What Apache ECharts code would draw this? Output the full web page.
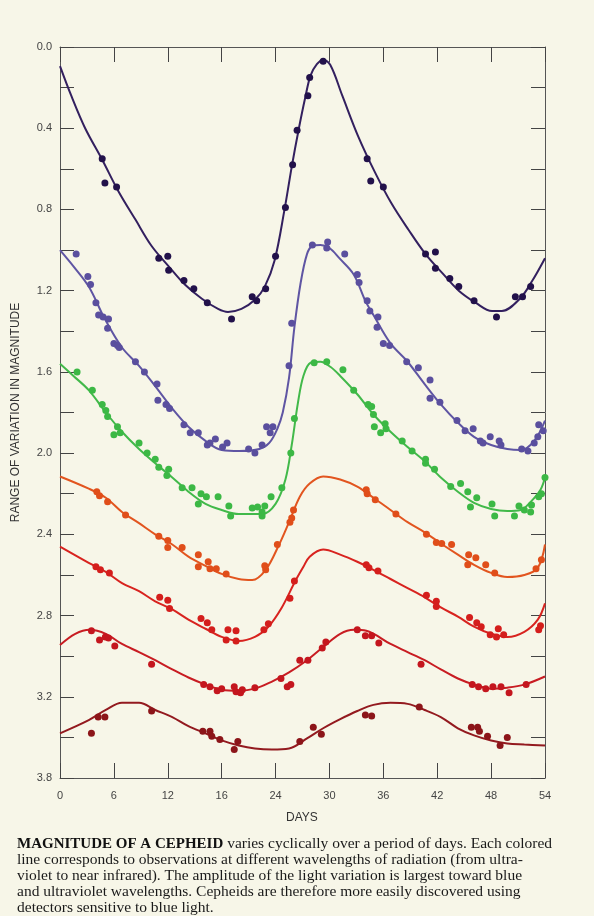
<!DOCTYPE html>
<html>
<head>
<meta charset="utf-8">
<script src="https://cdn.jsdelivr.net/npm/echarts@6/dist/echarts.min.js"></script>
<style>
  html, body { margin: 0; padding: 0; background: #f7f6e8; }
  #main { width: 594px; height: 916px; }
</style>
</head>
<body>
<div id="main"></div>
<script>
// tick labels as printed on the figure
var xTickLabels = ['0', '6', '12', '16', '24', '30', '36', '42', '48', '54'];
var yTickLabels = ['0.0', '', '0.4', '', '0.8', '', '1.2', '', '1.6', '', '2.0', '', '2.4', '', '2.8', '', '3.2', '', '3.8'];

// fitted curves [day, magnitude] and observations, one pair per wavelength
var curve1 = [[0,0.094],[1.3,0.245],[2.8,0.40],[4.7,0.555],[6.5,0.71],[8.4,0.85],[10.2,0.98],[12.1,1.08],[13.9,1.17],[15.8,1.24],[17.6,1.29],[18.7,1.305],[20.2,1.29],[21.7,1.245],[22.8,1.18],[23.9,1.05],[25,0.80],[25.8,0.59],[26.6,0.40],[27.3,0.25],[27.9,0.14],[28.6,0.084],[29.3,0.065],[30.1,0.089],[31.4,0.236],[33.2,0.44],[35.1,0.62],[36.9,0.77],[38.8,0.90],[40.7,1.02],[42.6,1.115],[44.4,1.20],[46.3,1.26],[48.1,1.30],[49.2,1.30],[51.2,1.24],[52.6,1.15],[54,1.04]];
var dots1 = [[4.7,0.55],[5.0,0.67],[6.3,0.69],[11.0,1.04],[12.0,1.03],[12.1,1.10],[13.8,1.15],[14.9,1.19],[16.4,1.26],[19.1,1.34],[21.4,1.23],[21.9,1.25],[22.9,1.19],[24.0,1.03],[25.1,0.79],[25.9,0.58],[26.4,0.41],[27.6,0.24],[27.8,0.15],[29.3,0.07],[34.2,0.55],[34.6,0.66],[36.0,0.69],[40.7,1.02],[41.8,1.01],[41.8,1.09],[43.4,1.14],[44.4,1.18],[46.1,1.25],[48.6,1.33],[50.7,1.23],[51.5,1.23],[52.4,1.18]];

var curve2 = [[0,1.00],[1.5,1.08],[3.2,1.18],[5,1.34],[6.9,1.48],[8.8,1.57],[10.6,1.67],[12.5,1.78],[14.3,1.87],[16.2,1.94],[18,1.985],[20,1.99],[22.2,1.98],[23.3,1.95],[24.2,1.88],[24.8,1.80],[25.5,1.63],[26.1,1.38],[26.8,1.16],[27.5,1.02],[28.1,0.98],[29,0.975],[30,0.99],[31.1,1.04],[32.7,1.12],[34,1.25],[34.9,1.32],[36.8,1.46],[38.7,1.55],[40.6,1.66],[42.4,1.76],[44.3,1.85],[46.1,1.92],[48,1.96],[49.8,1.98],[51.3,1.985],[52.8,1.94],[54,1.84]];
var dots2 = [[1.8,1.02],[3.1,1.13],[3.4,1.17],[4.0,1.26],[4.3,1.32],[4.8,1.33],[5.4,1.34],[5.3,1.385],[6.0,1.46],[6.4,1.47],[6.6,1.48],[8.4,1.55],[9.4,1.60],[10.8,1.66],[10.9,1.74],[11.8,1.76],[12.2,1.78],[13.8,1.86],[14.5,1.90],[15.4,1.90],[16.4,1.96],[16.7,1.95],[17.3,1.93],[18.1,1.97],[18.6,1.95],[21.0,1.98],[21.7,2.00],[22.5,1.96],[23.0,1.87],[23.4,1.90],[23.7,1.87],[25.5,1.57],[25.8,1.36],[28.1,0.975],[29.8,0.96],[29.7,0.99],[31.7,1.02],[33.1,1.12],[33.3,1.16],[34.2,1.25],[34.5,1.30],[35.4,1.33],[35.3,1.38],[36.0,1.46],[36.7,1.47],[38.6,1.55],[39.9,1.58],[41.2,1.64],[41.2,1.73],[42.3,1.75],[44.2,1.84],[45.1,1.89],[46.0,1.88],[46.8,1.94],[47.1,1.95],[47.9,1.92],[48.9,1.94],[49.1,1.96],[51.4,1.98],[52.1,1.99],[52.8,1.95],[53.2,1.92],[53.3,1.86],[53.8,1.89]];

var curve3 = [[0,1.56],[1.5,1.62],[3.2,1.69],[5.1,1.80],[6.9,1.895],[8.8,1.98],[10.6,2.05],[12.5,2.12],[14.3,2.19],[16.2,2.25],[18,2.28],[19.9,2.30],[22.5,2.30],[24,2.25],[25.1,2.13],[25.8,1.96],[26.5,1.75],[27.1,1.62],[27.9,1.555],[29,1.55],[30.1,1.575],[31.2,1.62],[33.1,1.71],[34.9,1.81],[36.8,1.895],[38.7,1.97],[40.6,2.04],[42.4,2.12],[44.3,2.19],[46.1,2.245],[48,2.275],[49.8,2.285],[51.3,2.28],[52.4,2.24],[53.5,2.18],[54,2.12]];
var dots3 = [[1.9,1.60],[3.6,1.69],[4.7,1.76],[5.1,1.79],[5.3,1.82],[6.4,1.87],[6.7,1.90],[6.0,1.91],[8.8,1.95],[9.7,2.00],[10.6,2.03],[11.0,2.07],[12.1,2.08],[11.9,2.11],[13.6,2.17],[14.7,2.17],[15.7,2.20],[16.3,2.215],[15.4,2.25],[17.6,2.215],[18.8,2.26],[19.0,2.31],[21.4,2.27],[22.0,2.265],[22.5,2.29],[22.5,2.31],[22.8,2.26],[23.5,2.215],[24.7,2.17],[25.7,2.00],[26.1,1.83],[28.3,1.555],[29.7,1.55],[31.5,1.59],[32.7,1.69],[34.3,1.76],[34.7,1.77],[34.9,1.81],[35.0,1.87],[35.7,1.90],[36.2,1.855],[36.3,1.88],[38.1,1.94],[39.2,1.99],[40.7,2.03],[40.7,2.05],[41.7,2.08],[43.5,2.165],[44.6,2.15],[45.4,2.19],[46.4,2.22],[45.7,2.265],[48.1,2.25],[48.4,2.31],[50.6,2.31],[51.1,2.26],[51.7,2.28],[52.4,2.29],[52.5,2.255],[53.3,2.215],[53.6,2.20],[54.0,2.12]];

var curve4 = [[0,2.115],[3.2,2.175],[5.1,2.22],[6.9,2.29],[8.8,2.345],[10.6,2.40],[12.5,2.45],[14.3,2.51],[16.2,2.555],[18,2.595],[19.9,2.62],[21.4,2.625],[22.9,2.575],[24.4,2.45],[25.5,2.34],[26.7,2.215],[27.8,2.15],[29.3,2.115],[31.2,2.13],[33.1,2.165],[34.9,2.22],[36.8,2.28],[38.7,2.34],[40.6,2.39],[42.4,2.445],[44.3,2.50],[46.1,2.55],[48,2.59],[49.8,2.61],[51.7,2.60],[53.2,2.565],[54,2.45]];
var dots4 = [[4.1,2.19],[4.4,2.21],[5.3,2.24],[7.3,2.305],[11.0,2.41],[12.0,2.43],[12.0,2.465],[13.6,2.465],[15.4,2.50],[15.4,2.56],[16.5,2.535],[16.7,2.57],[17.4,2.57],[18.5,2.595],[22.9,2.575],[22.8,2.555],[24.2,2.45],[25.6,2.34],[26.0,2.28],[25.8,2.32],[34.1,2.18],[34.2,2.20],[35.1,2.23],[37.4,2.30],[40.8,2.40],[41.9,2.44],[42.5,2.445],[43.6,2.45],[45.5,2.50],[46.3,2.515],[45.4,2.55],[47.4,2.55],[48.4,2.59],[53.0,2.57],[53.6,2.525]];

var curve5 = [[0,2.46],[3.2,2.54],[5.1,2.585],[6.9,2.64],[8.8,2.68],[10.6,2.73],[12.5,2.77],[14.3,2.82],[16.2,2.865],[18,2.905],[19.9,2.925],[21.7,2.905],[23.2,2.855],[24.7,2.76],[26.2,2.63],[27.1,2.56],[27.8,2.51],[29.3,2.475],[31.2,2.50],[33.1,2.535],[34.9,2.575],[36.8,2.62],[38.7,2.665],[40.6,2.71],[42.4,2.76],[44.3,2.805],[46.1,2.855],[48,2.89],[49.8,2.905],[51.7,2.88],[53.2,2.82],[54,2.74]];
var dots5 = [[4.0,2.56],[4.5,2.575],[5.5,2.59],[11.1,2.71],[12.0,2.725],[12.2,2.765],[15.7,2.815],[16.4,2.835],[16.9,2.87],[18.5,2.92],[18.7,2.87],[19.6,2.875],[19.6,2.925],[22.7,2.87],[23.2,2.84],[25.6,2.715],[26.1,2.63],[34.1,2.55],[34.4,2.565],[35.4,2.58],[40.8,2.70],[41.9,2.73],[41.9,2.755],[45.6,2.81],[46.4,2.835],[46.9,2.855],[47.9,2.895],[48.6,2.905],[48.8,2.865],[49.4,2.895],[53.3,2.87],[53.5,2.85]];

var curve6 = [[0,2.945],[1.7,2.89],[3.3,2.87],[5.1,2.89],[6.9,2.94],[8.8,2.98],[10.6,3.02],[12.5,3.065],[14.3,3.105],[16.2,3.14],[18,3.165],[19.9,3.17],[21.7,3.16],[23.6,3.125],[25.5,3.08],[27.5,3.02],[29.3,2.955],[31.2,2.89],[32.7,2.87],[34.1,2.875],[36.8,2.94],[38.7,2.98],[40.6,3.02],[42.4,3.065],[44.3,3.11],[46.1,3.14],[48,3.16],[49.8,3.155],[51.7,3.14],[54,3.10]];
var dots6 = [[3.5,2.875],[4.4,2.92],[5.05,2.905],[5.4,2.91],[6.1,2.95],[10.2,3.04],[16.0,3.14],[16.7,3.15],[17.5,3.17],[18.0,3.16],[19.4,3.15],[19.6,3.175],[20.1,3.18],[20.3,3.165],[21.7,3.155],[24.6,3.11],[25.3,3.15],[26.7,3.02],[25.7,3.14],[27.6,3.02],[29.2,2.96],[29.6,2.93],[33.1,2.87],[34.0,2.90],[34.7,2.90],[35.5,2.935],[40.2,3.04],[45.9,3.14],[46.6,3.15],[47.4,3.16],[48.2,3.15],[49.1,3.15],[50.0,3.18],[51.9,3.14]];

var curve7 = [[0,3.38],[3.2,3.315],[5.1,3.265],[6.9,3.23],[8.8,3.23],[10.6,3.265],[12.5,3.30],[14.3,3.345],[16.2,3.38],[18,3.415],[19.9,3.44],[21.7,3.455],[23.6,3.46],[25.5,3.455],[27.5,3.405],[29.3,3.355],[31.2,3.31],[33.1,3.27],[34.9,3.24],[36.8,3.23],[38.7,3.235],[40.6,3.265],[42.4,3.30],[44.3,3.355],[46.1,3.39],[48,3.415],[49.8,3.43],[51.7,3.435],[54,3.44]];
var dots7 = [[3.5,3.38],[4.25,3.30],[5.0,3.30],[10.2,3.27],[15.9,3.37],[16.7,3.37],[16.9,3.395],[17.8,3.41],[19.4,3.46],[19.8,3.42],[26.7,3.42],[28.2,3.35],[29.1,3.385],[34.0,3.29],[34.7,3.295],[40.0,3.25],[45.8,3.35],[46.5,3.35],[46.7,3.37],[47.6,3.395],[49.0,3.44],[49.8,3.40]];

var curves = [curve1, curve2, curve3, curve4, curve5, curve6, curve7];
var dots = [dots1, dots2, dots3, dots4, dots5, dots6, dots7];
var lineColors = ['#33205f', '#5f55a3', '#42b94a', '#e2551f', '#d8231f', '#c81c22', '#931a1f'];
var dotColors = ['#22114a', '#5a4f9e', '#3cb845', '#e04e1a', '#d41e1c', '#c4161e', '#8c1519'];

var myChart = echarts.init(document.getElementById('main'));

var seriesList = [];
for (var i = 0; i < curves.length; i++) {
    seriesList.push({
        type: 'line',
        data: curves[i],
        smooth: 0.35,
        showSymbol: false,
        lineStyle: { color: lineColors[i], width: 2 },
        z: 2
    });
    seriesList.push({
        type: 'scatter',
        data: dots[i],
        symbolSize: 7,
        itemStyle: { color: dotColors[i], opacity: 1 },
        z: 3
    });
}

// box frame: every axis stays on its own edge, ticks point inward
var axisLine = { show: true, onZero: false, lineStyle: { color: '#555', width: 1 } };
var tick = function (len) { return { show: true, inside: true, length: len, lineStyle: { color: '#444' } }; };
var labelFont = { color: '#444', fontSize: 11, fontFamily: 'Liberation Sans' };

option = {
    backgroundColor: '#f7f6e8',
    animation: false,
    grid: { left: 60, right: 49, top: 47, bottom: 138 },
    xAxis: [
        {
            type: 'value', min: 0, max: 54, interval: 6, position: 'bottom',
            axisLine: axisLine,
            axisTick: tick(15),
            splitLine: { show: false },
            axisLabel: Object.assign({ margin: 12, formatter: function (v) { return xTickLabels[Math.round(v / 6)]; } }, labelFont)
        },
        {
            type: 'value', min: 0, max: 54, interval: 6, position: 'top',
            axisLine: axisLine,
            axisTick: tick(15),
            splitLine: { show: false },
            axisLabel: { show: false }
        }
    ],
    yAxis: [
        {
            type: 'value', min: 0, max: 3.6, interval: 0.2, inverse: true, position: 'left',
            axisLine: axisLine,
            axisTick: tick(14),
            splitLine: { show: false },
            axisLabel: Object.assign({ margin: 8, formatter: function (v) { return yTickLabels[Math.round(v / 0.2)]; } }, labelFont),
            name: 'RANGE OF VARIATION IN MAGNITUDE',
            nameLocation: 'middle',
            nameGap: 38,
            nameRotate: 90,
            nameTextStyle: { color: '#333', fontSize: 12, fontFamily: 'Liberation Sans' }
        },
        {
            type: 'value', min: 0, max: 3.6, interval: 0.2, inverse: true, position: 'right',
            axisLine: axisLine,
            axisTick: tick(14),
            splitLine: { show: false },
            axisLabel: { show: false }
        }
    ],
    graphic: [
        {
            type: 'text', left: 286, top: 812,
            style: { text: 'DAYS', fill: '#333', font: '12px "Liberation Sans"' }
        },
        {
            type: 'text', left: 17, top: 836,
            style: {
                text: '{b|MAGNITUDE OF A CEPHEID} varies cyclically over a period of days. Each colored\n' +
                      'line corresponds to observations at different wavelengths of radiation (from ultra-\n' +
                      'violet to near infrared). The amplitude of the light variation is largest toward blue\n' +
                      'and ultraviolet wavelengths. Cepheids are therefore more easily discovered using\n' +
                      'detectors sensitive to blue light.',
                fill: '#1a1a1a',
                font: '15.5px "Liberation Serif"',
                lineHeight: 16,
                rich: {
                    b: { fontWeight: 'bold', fontSize: 15, fontFamily: 'Liberation Serif', fill: '#111' }
                }
            }
        }
    ],
    series: seriesList
};

myChart.setOption(option);
</script>
</body>
</html>
